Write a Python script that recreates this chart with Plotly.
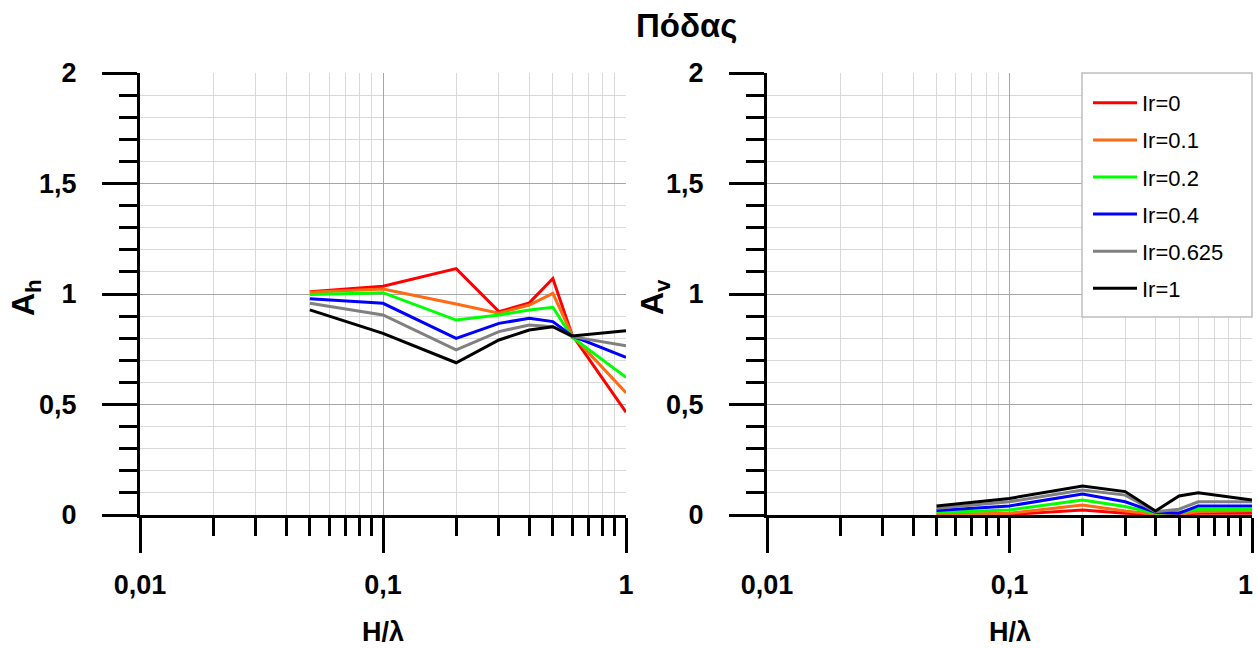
import math
import plotly.graph_objects as go

x_vals = [0.05, 0.1, 0.2, 0.3, 0.4, 0.5, 0.6, 1.0]
series_names = ["Ir=0", "Ir=0.1", "Ir=0.2", "Ir=0.4", "Ir=0.625", "Ir=1"]
colors = ["#ff0000", "#ff6a13", "#00ff00", "#0000ff", "#808080", "#000000"]

ah_ir0 = [1.01, 1.035, 1.115, 0.92, 0.96, 1.07, 0.815, 0.465]
ah_ir01 = [1.008, 1.023, 0.955, 0.913, 0.95, 1.003, 0.814, 0.553]
ah_ir02 = [0.998, 1.006, 0.882, 0.905, 0.928, 0.94, 0.804, 0.623]
ah_ir04 = [0.979, 0.958, 0.799, 0.867, 0.89, 0.875, 0.81, 0.713]
ah_ir0625 = [0.958, 0.905, 0.747, 0.83, 0.86, 0.852, 0.807, 0.766]
ah_ir1 = [0.928, 0.822, 0.689, 0.792, 0.837, 0.852, 0.81, 0.834]

av_ir0 = [0.0, 0.002, 0.023, 0.008, 0.002, 0.002, 0.008, 0.008]
av_ir01 = [0.003, 0.008, 0.045, 0.018, 0.004, 0.003, 0.015, 0.02]
av_ir02 = [0.011, 0.023, 0.068, 0.038, 0.008, 0.011, 0.026, 0.026]
av_ir04 = [0.02, 0.041, 0.095, 0.06, 0.012, 0.008, 0.041, 0.041]
av_ir0625 = [0.03, 0.06, 0.113, 0.09, 0.015, 0.026, 0.06, 0.06]
av_ir1 = [0.041, 0.075, 0.131, 0.106, 0.018, 0.086, 0.101, 0.068]

ah_series = [ah_ir0, ah_ir01, ah_ir02, ah_ir04, ah_ir0625, ah_ir1]
av_series = [av_ir0, av_ir01, av_ir02, av_ir04, av_ir0625, av_ir1]

x_tickvals = [0.01, 0.1, 1]
x_ticktext = ["0,01", "0,1", "1"]
# the right panel's last label sits at the page edge; it is drawn as an annotation nudged inward
x_ticktext_right = ["0,01", "0,1", ""]

fig = go.Figure()
for name, col, ys in zip(series_names, colors, ah_series):
    fig.add_trace(go.Scatter(x=x_vals, y=ys, mode="lines", name=name,
                             line=dict(color=col, width=3), showlegend=False,
                             xaxis="x", yaxis="y"))
for name, col, ys in zip(series_names, colors, av_series):
    fig.add_trace(go.Scatter(x=x_vals, y=ys, mode="lines", name=name,
                             line=dict(color=col, width=3), showlegend=True,
                             legendgroup=name, xaxis="x2", yaxis="y2"))

tickfont = dict(family="Liberation Sans, Arial, sans-serif", size=27, color="black", weight="bold")
major_grid = "#a6a6a6"
minor_grid = "#d9d9d9"

def xaxis_cfg(domain, anchor, ticktext):
    return dict(
        type="log", range=[-2, 0], domain=domain, anchor=anchor, automargin=False,
        tickmode="array", tickvals=x_tickvals, ticktext=ticktext,
        ticks="outside", ticklen=35, tickwidth=3, tickcolor="black",
        showline=True, linewidth=3, linecolor="black",
        showgrid=True, gridcolor=major_grid, gridwidth=1,
        zeroline=False, tickfont=tickfont, ticklabelstandoff=9,
        ticklabeloverflow="allow",
        minor=dict(dtick="D1", ticks="outside", ticklen=18, tickwidth=3,
                   tickcolor="black", showgrid=True, gridcolor=minor_grid, gridwidth=1),
    )

def yaxis_cfg(domain, anchor):
    return dict(
        range=[0, 2], domain=domain, anchor=anchor, automargin=False,
        tickmode="linear", tick0=0, dtick=0.5,
        ticks="outside", ticklen=35, tickwidth=3, tickcolor="black",
        showline=True, linewidth=3, linecolor="black",
        showgrid=True, gridcolor=major_grid, gridwidth=1,
        zeroline=False, tickfont=tickfont, ticklabelstandoff=20,
        ticklabeloverflow="allow",
        minor=dict(dtick=0.1, ticks="outside", ticklen=18, tickwidth=3,
                   tickcolor="black", showgrid=True, gridcolor=minor_grid, gridwidth=1),
    )

W, H = 1258, 648
ydom = [1 - 515 / H, 1 - 73 / H]
fig.update_layout(
    width=W, height=H,
    margin=dict(l=0, r=0, t=0, b=0, autoexpand=False),
    paper_bgcolor="white", plot_bgcolor="white",
    separators=",.",
    xaxis=xaxis_cfg([140 / W, 626 / W], "y", x_ticktext),
    yaxis=yaxis_cfg(ydom, "x"),
    xaxis2=xaxis_cfg([767 / W, 1252 / W], "y2", x_ticktext_right),
    yaxis2=yaxis_cfg(ydom, "x2"),
    legend=dict(
        x=1088 / W, y=1 - 82 / H, xanchor="left", yanchor="top",
        bgcolor="rgba(0,0,0,0)", borderwidth=0,
        font=dict(family="Liberation Sans, Arial, sans-serif", size=22, color="black"),
        itemwidth=44, tracegroupgap=5.5, traceorder="grouped",
    ),
    showlegend=True,
    shapes=[dict(type="rect", xref="paper", yref="paper",
                 x0=1082 / W, x1=1252 / W, y0=1 - 317 / H, y1=1 - 73 / H,
                 fillcolor="white", line=dict(color="#bfbfbf", width=1.5), layer="above")],
)

bold_font = lambda s: dict(family="Liberation Sans, Arial, sans-serif", size=s, color="black", weight="bold")
annotations = [
    dict(text="Πόδας", x=686 / W, y=1 - 26 / H, xref="paper", yref="paper",
         xanchor="center", yanchor="middle", showarrow=False, font=bold_font(33)),
    dict(text="A<sub>h</sub>", x=26 / W, y=1 - 297 / H, xref="paper", yref="paper",
         xanchor="center", yanchor="middle", showarrow=False, textangle=-90, font=bold_font(32)),
    dict(text="A<sub>v</sub>", x=655 / W, y=1 - 297 / H, xref="paper", yref="paper",
         xanchor="center", yanchor="middle", showarrow=False, textangle=-90, font=bold_font(32)),
    dict(text="H/λ", x=383 / W, y=1 - 632 / H, xref="paper", yref="paper",
         xanchor="center", yanchor="middle", showarrow=False, font=bold_font(27)),
    dict(text="H/λ", x=1010 / W, y=1 - 632 / H, xref="paper", yref="paper",
         xanchor="center", yanchor="middle", showarrow=False, font=bold_font(27)),
    dict(text=x_ticktext[-1], x=math.log10(x_tickvals[-1]), y=1 - 585 / H, xref="x2", yref="paper",
         xanchor="right", yanchor="middle", xshift=3, showarrow=False, font=tickfont),
]
fig.update_layout(annotations=annotations)

fig.write_html("out.html")
